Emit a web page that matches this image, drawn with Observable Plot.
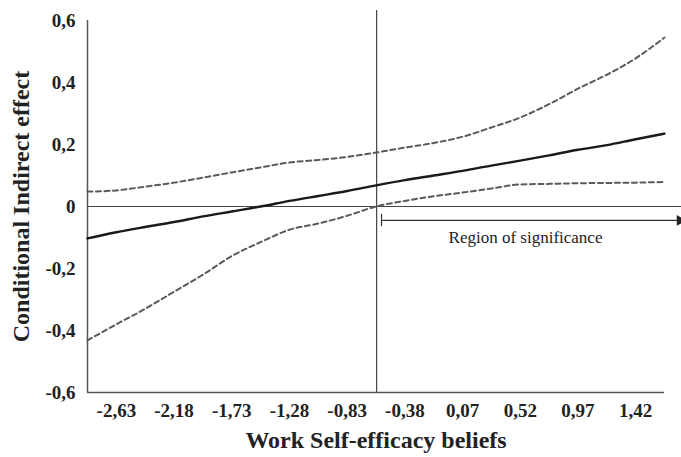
<!DOCTYPE html>
<html>
<head>
<meta charset="utf-8">
<script src="https://cdn.jsdelivr.net/npm/d3@7"></script>
<script src="https://cdn.jsdelivr.net/npm/@observablehq/plot@0.6"></script>
<style>
  body { margin: 0; background: #fff; }
</style>
</head>
<body>
<div id="chart"></div>
<script>
// Moderator values (Work Self-efficacy beliefs)
const xValues = [-2.855, -2.63, -2.405, -2.18, -1.955, -1.73, -1.505, -1.28, -1.055, -0.83, -0.605,
                 -0.38, -0.155, 0.07, 0.295, 0.52, 0.745, 0.97, 1.195, 1.42, 1.645];
// Conditional indirect effect (estimate)
const effect = [-0.103, -0.083, -0.066, -0.050, -0.032, -0.016, 0.000, 0.018, 0.034, 0.050, 0.068,
                0.085, 0.100, 0.115, 0.132, 0.148, 0.165, 0.183, 0.198, 0.217, 0.235];
// Upper confidence bound
const upper = [0.048, 0.052, 0.064, 0.077, 0.093, 0.110, 0.126, 0.142, 0.150, 0.160, 0.174,
               0.190, 0.205, 0.225, 0.255, 0.287, 0.330, 0.380, 0.425, 0.478, 0.545];
// Lower confidence bound
const lower = [-0.432, -0.380, -0.330, -0.275, -0.220, -0.160, -0.115, -0.075, -0.055, -0.030, 0.000,
               0.018, 0.033, 0.045, 0.058, 0.071, 0.073, 0.075, 0.076, 0.077, 0.079];

const xTicks = [-2.63, -2.18, -1.73, -1.28, -0.83, -0.38, 0.07, 0.52, 0.97, 1.42];
const yTicks = [-0.6, -0.4, -0.2, 0, 0.2, 0.4, 0.6];

const jnPoint = -0.60;        // Johnson-Neyman point
const regionStart = -0.562;
const regionLabel = "Region of significance";
const xTitle = "Work Self-efficacy beliefs";
const yTitle = "Conditional Indirect effect";

const rows = xValues.map((x, i) => ({x, effect: effect[i], upper: upper[i], lower: lower[i]}));
const xMin = -2.855, xMax = 1.645, xEdge = 1.78;

const comma = (d) => {
  if (d === 0) return "0";
  const s = String(+d.toFixed(2));
  return s.replace(".", ",");
};

const font = "'Liberation Serif', 'DejaVu Serif', serif";

const chart = Plot.plot({
  width: 681,
  height: 457,
  marginLeft: 87,
  marginRight: 17,
  marginTop: 20,
  marginBottom: 65,
  style: {fontFamily: font, background: "#fff", color: "#222"},
  x: {domain: [xMin, xMax], axis: null},
  y: {domain: [-0.6, 0.6], axis: null},
  marks: [
    // axis tick labels
    Plot.axisX({ticks: xTicks, tickSize: 0, tickPadding: 11, tickFormat: comma, fontSize: 19, fontWeight: "bold", label: null}),
    Plot.axisY({ticks: yTicks, tickSize: 0, tickPadding: 12, tickFormat: comma, fontSize: 19, fontWeight: "bold", label: null}),
    // axis lines
    Plot.ruleX([xMin], {y1: -0.6, y2: 0.6, stroke: "#555", strokeWidth: 1.5}),
    Plot.ruleY([-0.6], {x1: xMin, x2: xMax, stroke: "#555", strokeWidth: 1.5}),
    Plot.ruleY([0], {x1: xMin, x2: xEdge, stroke: "#444", strokeWidth: 1.2}),
    // Johnson-Neyman vertical line
    Plot.ruleX([jnPoint], {y1: -0.6, y2: 0.632, stroke: "#444", strokeWidth: 1.2}),
    // confidence bounds
    Plot.line(rows, {x: "x", y: "upper", stroke: "#5a5a5a", strokeWidth: 2, strokeDasharray: "5,3.5", curve: "monotone-x"}),
    Plot.line(rows, {x: "x", y: "lower", stroke: "#5a5a5a", strokeWidth: 2, strokeDasharray: "5,3.5", curve: "monotone-x"}),
    // estimate
    Plot.line(rows, {x: "x", y: "effect", stroke: "#1a1a1a", strokeWidth: 2.4, curve: "monotone-x"}),
    // region of significance arrow
    Plot.ruleY([-0.045], {x1: regionStart, x2: 1.76, stroke: "#333", strokeWidth: 1.2}),
    Plot.ruleX([regionStart], {y1: -0.025, y2: -0.065, stroke: "#333", strokeWidth: 1.2}),
    Plot.dot([{x: 1.765, y: -0.045}], {x: "x", y: "y", symbol: "triangle", rotate: 90, r: 4, fill: "#222", stroke: "none"}),
    Plot.text([regionLabel], {x: 0.561, y: -0.1, text: d => d, fontSize: 17, fontWeight: "normal", fill: "#222"}),
    // axis titles
    Plot.text([xTitle], {frameAnchor: "bottom", dy: 55, text: d => d, fontSize: 24, fontWeight: "bold", fill: "#222"}),
    Plot.text([yTitle], {frameAnchor: "left", textAnchor: "middle", dx: -66, rotate: -90, text: d => d, fontSize: 24, fontWeight: "bold", fill: "#222"})
  ]
});

document.getElementById("chart").appendChild(chart);
</script>
</body>
</html>
